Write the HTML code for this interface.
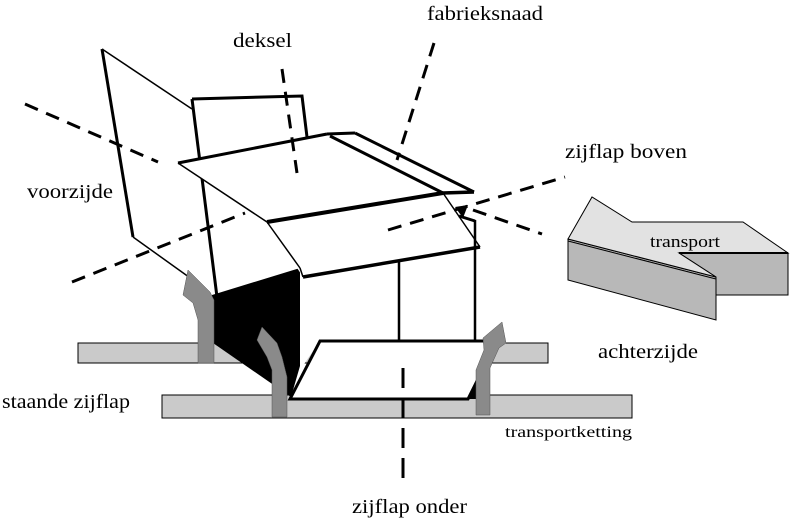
<!DOCTYPE html>
<html>
<head>
<meta charset="utf-8">
<style>
html,body{margin:0;padding:0;background:#fff;}
svg{display:block;}
svg text{font-family:"Liberation Serif","DejaVu Serif","Times New Roman",serif;fill:#000;}
</style>
</head>
<body>
<svg width="790" height="521" viewBox="0 0 790 521" xmlns="http://www.w3.org/2000/svg">
<rect x="0" y="0" width="790" height="521" fill="#fff"/>

<!-- rails -->
<rect x="78" y="343" width="470" height="20" fill="#cacaca" stroke="#000" stroke-width="1"/>
<rect x="162" y="395" width="470" height="23" fill="#cacaca" stroke="#000" stroke-width="1"/>

<!-- box body white -->
<polygon points="300,268 480,247 478,341 320,341 300,370" fill="#fff"/>

<!-- black side -->
<polygon points="212,295 300,268 300,366 291,397 213,343" fill="#000"/>

<!-- voorzijde flap -->
<line x1="102" y1="49" x2="133" y2="237" stroke="#000" stroke-width="3"/>
<line x1="102" y1="49" x2="192" y2="109" stroke="#000" stroke-width="1.5"/>
<line x1="133" y1="237" x2="200" y2="285" stroke="#000" stroke-width="1.5"/>

<!-- back panel -->
<polyline points="192,99 302,96 307,137" fill="none" stroke="#000" stroke-width="3"/>
<line x1="192" y1="99" x2="217" y2="297" stroke="#000" stroke-width="3"/>

<!-- front face under lid -->
<polygon points="267,222 443,193 480,247 303,277" fill="#fff"/>
<line x1="267" y1="222" x2="300" y2="268" stroke="#000" stroke-width="1.5"/>
<line x1="300" y1="268" x2="303" y2="277" stroke="#000" stroke-width="1.5"/>
<line x1="443" y1="193" x2="480" y2="247" stroke="#000" stroke-width="1.5"/>
<line x1="303" y1="277" x2="480" y2="247" stroke="#000" stroke-width="3.5"/>

<!-- lid -->
<polygon points="178,163 327,134 443,193 267,222" fill="#fff"/>
<polygon points="327,134 355,133 474,192 443,193" fill="#fff"/>
<line x1="178" y1="163" x2="267" y2="222" stroke="#000" stroke-width="1.5"/>
<line x1="178" y1="163" x2="327" y2="134" stroke="#000" stroke-width="3"/>
<line x1="327" y1="134" x2="355" y2="133" stroke="#000" stroke-width="3"/>
<line x1="355" y1="133" x2="474" y2="192" stroke="#000" stroke-width="3"/>
<line x1="330" y1="136" x2="443" y2="193" stroke="#000" stroke-width="3"/>
<line x1="443" y1="193" x2="474" y2="192" stroke="#000" stroke-width="3.5"/>
<line x1="267" y1="222" x2="443" y2="193" stroke="#000" stroke-width="4"/>

<!-- box vertical edges -->
<line x1="399" y1="260" x2="399" y2="341" stroke="#000" stroke-width="2.5"/>
<line x1="475" y1="220" x2="475" y2="341" stroke="#000" stroke-width="2.5"/>
<line x1="459" y1="216" x2="475" y2="221" stroke="#000" stroke-width="3"/>
<polygon points="455,207 468,205 463,218" fill="#000"/>

<!-- bottom flap -->
<polygon points="320,341 497,341 468,399 290,399" fill="#fff" stroke="#000" stroke-width="3" stroke-linejoin="miter"/>
<polygon points="468,399 480,375 480,399" fill="#000"/>

<!-- gray arrows -->
<polygon points="188,270 210,292 214,300 214,363 198,363 198,320 193,303 183,295" fill="#8a8a8a" stroke="#555" stroke-width="0.5"/>
<polygon points="262,327 277,343 282,357 287,377 287,417 272,417 272,370 267,357 257,340" fill="#8a8a8a" stroke="#555" stroke-width="0.5"/>
<polygon points="502,322 506,343 499,348 490,368 490,415 476,415 476,370 484,350 483,338" fill="#8a8a8a" stroke="#555" stroke-width="0.5"/>

<!-- transport arrow 3D -->
<polygon points="568,239 716,277 716,320 568,280" fill="#b8b8b8" stroke="#000" stroke-width="1"/>
<polygon points="679,253 788,253 788,295 716,295 716,277" fill="#b8b8b8" stroke="#000" stroke-width="1"/>
<polygon points="568,239 592,197 632,222 743,222 788,253 679,253 716,277" fill="#e2e2e2" stroke="#000" stroke-width="1"/>
<line x1="568" y1="241" x2="716" y2="279" stroke="#000" stroke-width="1"/>
<line x1="679" y1="253" x2="788" y2="253" stroke="#000" stroke-width="2"/>
<text x="650" y="247" font-family="Liberation Serif, DejaVu Serif, serif" font-size="17" textLength="70" lengthAdjust="spacingAndGlyphs">transport</text>

<!-- dashed leader lines -->
<g stroke="#000" stroke-width="3" fill="none" stroke-dasharray="14 9">
  <line x1="282" y1="69" x2="297" y2="173"/>
  <line x1="434" y1="43" x2="397" y2="160"/>
  <line x1="25" y1="104" x2="158" y2="162"/>
  <line x1="72" y1="282" x2="245" y2="213"/>
  <line x1="388" y1="230" x2="565" y2="177"/>
  <line x1="473" y1="210" x2="542" y2="234"/>
</g>
<line x1="403" y1="368" x2="403" y2="480" stroke="#000" stroke-width="3" stroke-dasharray="20 10"/>

<!-- labels -->
<g font-family="Liberation Serif, DejaVu Serif, serif">
<text x="427" y="20" font-size="20" textLength="116" lengthAdjust="spacingAndGlyphs">fabrieksnaad</text>
<text x="233" y="47" font-size="20" textLength="59" lengthAdjust="spacingAndGlyphs">deksel</text>
<text x="565" y="158" font-size="20" textLength="122" lengthAdjust="spacingAndGlyphs">zijflap boven</text>
<text x="27" y="198" font-size="20" textLength="86" lengthAdjust="spacingAndGlyphs">voorzijde</text>
<text x="2" y="408" font-size="20" textLength="128" lengthAdjust="spacingAndGlyphs">staande zijflap</text>
<text x="598" y="358" font-size="20" textLength="100" lengthAdjust="spacingAndGlyphs">achterzijde</text>
<text x="505" y="437" font-size="16" textLength="127" lengthAdjust="spacingAndGlyphs">transportketting</text>
<text x="352" y="513" font-size="20" textLength="115" lengthAdjust="spacingAndGlyphs">zijflap onder</text>
</g>
</svg>
</body>
</html>
